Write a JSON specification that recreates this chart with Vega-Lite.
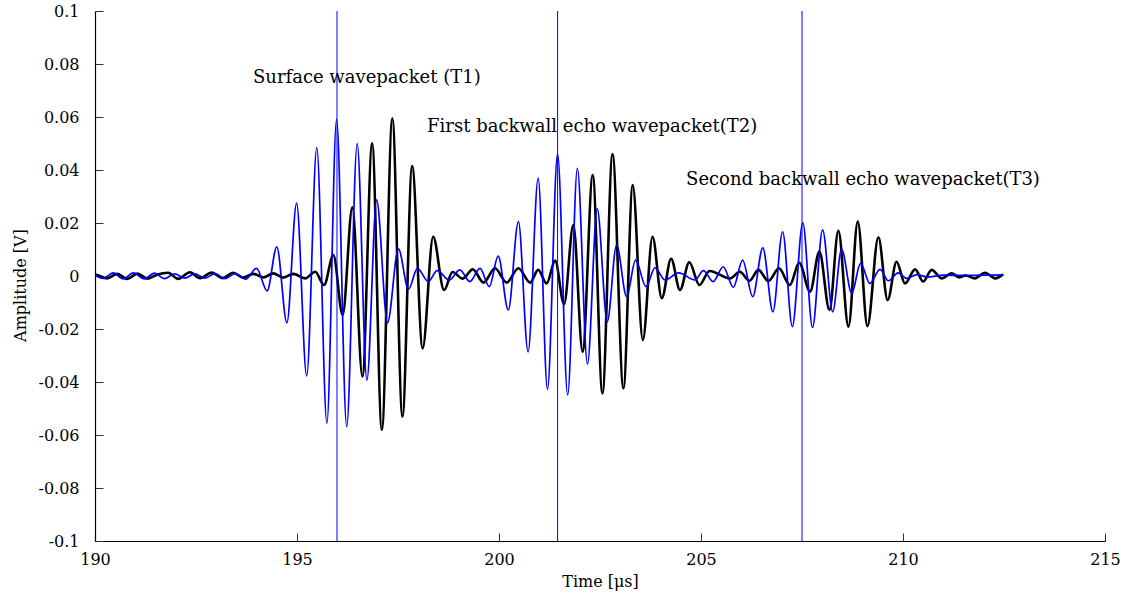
{
  "$schema": "https://vega.github.io/schema/vega-lite/v6.json",
  "width": 1010,
  "height": 530,
  "autosize": "none",
  "padding": {"left": 95, "top": 11, "right": 30, "bottom": 58},
  "background": "white",
  "view": {"stroke": null},
  "config": {
    "font": "DejaVu Serif",
    "axis": {"grid": false, "domainColor": "#000000", "tickColor": "#333333", "labelColor": "#000000", "titleColor": "#000000", "labelFont": "DejaVu Serif", "titleFont": "DejaVu Serif", "labelFontSize": 16, "titleFontSize": 16, "titleFontWeight": "normal", "tickSize": -8, "domainWidth": 1.2}
  },
  "datasets": {
    "blue": [
      {"t": 190.0, "amp": 0.0004}, {"t": 190.2, "amp": -0.0009}, {"t": 190.45, "amp": 0.0012}, {"t": 190.7, "amp": -0.0011},
      {"t": 190.95, "amp": 0.0012}, {"t": 191.22, "amp": -0.0011}, {"t": 191.47, "amp": 0.0011}, {"t": 191.72, "amp": -0.001},
      {"t": 191.97, "amp": 0.0008}, {"t": 192.22, "amp": -0.0008}, {"t": 192.47, "amp": 0.0008}, {"t": 192.72, "amp": -0.0008},
      {"t": 192.97, "amp": 0.0009}, {"t": 193.22, "amp": -0.001}, {"t": 193.47, "amp": 0.0009}, {"t": 193.73, "amp": -0.0012},
      {"t": 194.0, "amp": 0.0029}, {"t": 194.26, "amp": -0.0056}, {"t": 194.5, "amp": 0.011}, {"t": 194.75, "amp": -0.0176},
      {"t": 194.99, "amp": 0.0275}, {"t": 195.24, "amp": -0.0377}, {"t": 195.49, "amp": 0.0485}, {"t": 195.74, "amp": -0.0556},
      {"t": 195.98, "amp": 0.0591}, {"t": 196.23, "amp": -0.0569}, {"t": 196.49, "amp": 0.05}, {"t": 196.73, "amp": -0.0393},
      {"t": 196.97, "amp": 0.0287}, {"t": 197.24, "amp": -0.0176}, {"t": 197.51, "amp": 0.0102}, {"t": 197.76, "amp": -0.005},
      {"t": 197.98, "amp": 0.0029}, {"t": 198.25, "amp": -0.0021}, {"t": 198.47, "amp": 0.002}, {"t": 198.77, "amp": -0.0015},
      {"t": 199.03, "amp": 0.0023}, {"t": 199.28, "amp": -0.0021}, {"t": 199.53, "amp": 0.0029}, {"t": 199.76, "amp": -0.004},
      {"t": 199.98, "amp": 0.0075}, {"t": 200.23, "amp": -0.0128}, {"t": 200.48, "amp": 0.0205}, {"t": 200.72, "amp": -0.0286},
      {"t": 200.97, "amp": 0.0369}, {"t": 201.2, "amp": -0.0428}, {"t": 201.45, "amp": 0.046}, {"t": 201.7, "amp": -0.0449},
      {"t": 201.94, "amp": 0.0406}, {"t": 202.19, "amp": -0.0332}, {"t": 202.43, "amp": 0.0253}, {"t": 202.68, "amp": -0.0172},
      {"t": 202.91, "amp": 0.0117}, {"t": 203.16, "amp": -0.0078}, {"t": 203.38, "amp": 0.006}, {"t": 203.64, "amp": -0.004},
      {"t": 203.86, "amp": 0.0031}, {"t": 204.11, "amp": -0.0015}, {"t": 204.45, "amp": 0.0012}, {"t": 204.85, "amp": -0.0015},
      {"t": 205.06, "amp": 0.002}, {"t": 205.3, "amp": -0.0021}, {"t": 205.55, "amp": 0.0035}, {"t": 205.8, "amp": -0.0043},
      {"t": 206.03, "amp": 0.006}, {"t": 206.28, "amp": -0.0078}, {"t": 206.53, "amp": 0.0106}, {"t": 206.78, "amp": -0.0135},
      {"t": 207.02, "amp": 0.0167}, {"t": 207.26, "amp": -0.0191}, {"t": 207.52, "amp": 0.0201}, {"t": 207.76, "amp": -0.0194},
      {"t": 208.01, "amp": 0.0174}, {"t": 208.26, "amp": -0.0135}, {"t": 208.48, "amp": 0.0101}, {"t": 208.73, "amp": -0.0065},
      {"t": 208.95, "amp": 0.0048}, {"t": 209.18, "amp": -0.0028}, {"t": 209.43, "amp": 0.0025}, {"t": 209.64, "amp": -0.0018},
      {"t": 209.88, "amp": 0.0012}, {"t": 210.09, "amp": -0.0009}, {"t": 210.35, "amp": 0.0005}, {"t": 210.6, "amp": -0.0004},
      {"t": 211.0, "amp": 0.0003}, {"t": 211.5, "amp": 0.0002}, {"t": 212.0, "amp": 0.0003}, {"t": 212.48, "amp": 0.0004}
    ],
    "black": [
      {"t": 190.0, "amp": 0.0006}, {"t": 190.05, "amp": 0.0004}, {"t": 190.3, "amp": -0.0009}, {"t": 190.55, "amp": 0.0008},
      {"t": 190.8, "amp": -0.0011}, {"t": 191.05, "amp": 0.0009}, {"t": 191.3, "amp": -0.001}, {"t": 191.55, "amp": 0.0006},
      {"t": 191.81, "amp": 0.0012}, {"t": 192.06, "amp": -0.0011}, {"t": 192.35, "amp": 0.0014},
      {"t": 192.6, "amp": -0.0008}, {"t": 192.89, "amp": 0.0013}, {"t": 193.15, "amp": -0.0008}, {"t": 193.42, "amp": 0.0012},
      {"t": 193.67, "amp": -0.0006}, {"t": 193.92, "amp": 0.0008}, {"t": 194.17, "amp": -0.0005}, {"t": 194.41, "amp": 0.001},
      {"t": 194.66, "amp": -0.0006}, {"t": 194.91, "amp": 0.0008}, {"t": 195.2, "amp": -0.0009}, {"t": 195.45, "amp": 0.0016},
      {"t": 195.67, "amp": -0.0034}, {"t": 195.9, "amp": 0.0079}, {"t": 196.13, "amp": -0.0147}, {"t": 196.37, "amp": 0.0259},
      {"t": 196.62, "amp": -0.038}, {"t": 196.86, "amp": 0.0501}, {"t": 197.1, "amp": -0.0581}, {"t": 197.36, "amp": 0.0595},
      {"t": 197.61, "amp": -0.0531}, {"t": 197.85, "amp": 0.0415}, {"t": 198.11, "amp": -0.0273}, {"t": 198.37, "amp": 0.0148},
      {"t": 198.64, "amp": -0.0053}, {"t": 198.85, "amp": 0.0015}, {"t": 199.1, "amp": -0.001}, {"t": 199.35, "amp": 0.0025},
      {"t": 199.62, "amp": -0.0025}, {"t": 199.9, "amp": 0.0029}, {"t": 200.19, "amp": -0.0025}, {"t": 200.48, "amp": 0.0029},
      {"t": 200.77, "amp": -0.0025}, {"t": 200.97, "amp": 0.0023}, {"t": 201.18, "amp": -0.0028}, {"t": 201.39, "amp": 0.0058},
      {"t": 201.61, "amp": -0.0106}, {"t": 201.84, "amp": 0.0192}, {"t": 202.07, "amp": -0.0286}, {"t": 202.32, "amp": 0.0381},
      {"t": 202.56, "amp": -0.0443}, {"t": 202.81, "amp": 0.046}, {"t": 203.08, "amp": -0.0424}, {"t": 203.31, "amp": 0.0343},
      {"t": 203.56, "amp": -0.0242}, {"t": 203.8, "amp": 0.0148}, {"t": 204.03, "amp": -0.0084}, {"t": 204.26, "amp": 0.0065},
      {"t": 204.48, "amp": -0.0053}, {"t": 204.71, "amp": 0.0052}, {"t": 204.96, "amp": -0.0034}, {"t": 205.21, "amp": 0.0019},
      {"t": 205.72, "amp": -0.0009}, {"t": 205.96, "amp": 0.0016}, {"t": 206.2, "amp": -0.0018}, {"t": 206.42, "amp": 0.0023},
      {"t": 206.67, "amp": -0.0019}, {"t": 206.93, "amp": 0.0029}, {"t": 207.2, "amp": -0.0034}, {"t": 207.43, "amp": 0.005},
      {"t": 207.7, "amp": -0.0059}, {"t": 207.93, "amp": 0.0092}, {"t": 208.18, "amp": -0.0128}, {"t": 208.4, "amp": 0.0171},
      {"t": 208.65, "amp": -0.0191}, {"t": 208.88, "amp": 0.0205}, {"t": 209.12, "amp": -0.0189}, {"t": 209.39, "amp": 0.0146},
      {"t": 209.62, "amp": -0.0091}, {"t": 209.84, "amp": 0.0054}, {"t": 210.05, "amp": -0.0028}, {"t": 210.3, "amp": 0.0025},
      {"t": 210.5, "amp": -0.0021}, {"t": 210.71, "amp": 0.0023}, {"t": 210.96, "amp": -0.0009}, {"t": 211.2, "amp": 0.001},
      {"t": 211.4, "amp": -0.0005}, {"t": 211.55, "amp": 0.0002}, {"t": 211.78, "amp": -0.0009}, {"t": 212.03, "amp": 0.0012},
      {"t": 212.28, "amp": -0.0009}, {"t": 212.48, "amp": 0.0006}
    ],
    "markers": [{"t": 195.99}, {"t": 201.45}, {"t": 207.5}],
    "notes": [
      {"t": 193.91, "amp": 0.0747, "label": "Surface wavepacket (T1)"},
      {"t": 198.22, "amp": 0.0562, "label": "First backwall echo wavepacket(T2)"},
      {"t": 204.63, "amp": 0.0362, "label": "Second backwall echo wavepacket(T3)"}
    ]
  },
  "layer": [
    {
      "data": {"name": "black"},
      "mark": {"type": "line", "color": "#000000", "strokeWidth": 2.6, "interpolate": "monotone", "clip": true},
      "encoding": {
        "x": {"field": "t", "type": "quantitative", "scale": {"domain": [190, 215], "nice": false, "zero": false},
          "axis": {"values": [190, 195, 200, 205, 210, 215], "title": "Time [μs]", "labelPadding": 18, "titleY": 40, "titleBaseline": "middle", "labelFlush": false}},
        "y": {"field": "amp", "type": "quantitative", "scale": {"domain": [-0.1, 0.1], "nice": false, "zero": false},
          "axis": {"values": [-0.1, -0.08, -0.06, -0.04, -0.02, 0, 0.02, 0.04, 0.06, 0.08, 0.1], "title": "Amplitude [V]", "labelPadding": 24, "titleX": -75, "titleY": 274, "titleAngle": -90, "titleAlign": "center", "titleBaseline": "middle",
            "labelExpr": "replace(format(datum.value, '.2~f'), '\u2212', '-')"}}
      }
    },
    {
      "data": {"name": "blue"},
      "mark": {"type": "line", "color": "#0000ff", "strokeWidth": 1.7, "interpolate": "monotone", "clip": true},
      "encoding": {
        "x": {"field": "t", "type": "quantitative"},
        "y": {"field": "amp", "type": "quantitative"}
      }
    },
    {
      "data": {"name": "markers"},
      "mark": {"type": "rule", "color": "#0000ff", "strokeWidth": 1},
      "encoding": {
        "x": {"field": "t", "type": "quantitative"}
      }
    },
    {
      "data": {"name": "notes"},
      "mark": {"type": "text", "align": "left", "baseline": "middle", "font": "DejaVu Serif", "fontSize": 18, "color": "#000000"},
      "encoding": {
        "x": {"field": "t", "type": "quantitative"},
        "y": {"field": "amp", "type": "quantitative"},
        "text": {"field": "label"}
      }
    }
  ]
}
